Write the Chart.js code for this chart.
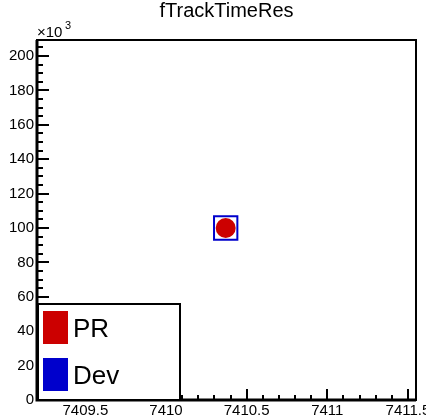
<!DOCTYPE html>
<html>
<head>
<meta charset="utf-8">
<script src="https://cdn.jsdelivr.net/npm/chart.js@4/dist/chart.umd.min.js"></script>
<style>
  html, body { margin: 0; padding: 0; background: #fff; }
  canvas { display: block; }
</style>
</head>
<body>
<canvas id="c" width="426" height="419"></canvas>
<script>
"use strict";

/* ── Datos ─────────────────────────────────────────── */
const SERIES_LABELS = ["PR", "Dev"];
const PR_X  = [7410.37];
const PR_Y  = [100000];
const DEV_X = [7410.37];
const DEV_Y = [100000];

const TITLE   = "fTrackTimeRes";
const X_RANGE = [7409.2, 7411.55];
const Y_RANGE = [0, 209300];
const X_TICKS = [7409.5, 7410, 7410.5, 7411, 7411.5];
const Y_TICKS = [0, 20000, 40000, 60000, 80000, 100000, 120000, 140000, 160000, 180000, 200000];

const RED  = "#cc0000";
const BLUE = "#0000cc";
const FONT = "'Liberation Sans', Arial, sans-serif";

function toPoints(xs, ys) {
  return xs.map((x, i) => ({ x, y: ys[i] }));
}

/* ── Plugin: marco, ticks internos, título, leyenda ──── */
const rootStyle = {
  id: "rootStyle",
  afterDraw(chart) {
    const { ctx, chartArea: a, scales } = chart;
    const xs = scales.x, ys = scales.y;
    ctx.save();

    // ticks hacia dentro (mayores en los ticks del eje)
    ctx.strokeStyle = "#000";
    ctx.lineWidth = 2;
    ctx.beginPath();
    for (let k = Math.ceil(X_RANGE[0] * 10); k <= Math.floor(X_RANGE[1] * 10); k++) {
      const px = Math.round(xs.getPixelForValue(k / 10));
      const major = k % 5 === 0;
      ctx.moveTo(px, a.bottom);
      ctx.lineTo(px, a.bottom - (major ? 11 : 5));
    }
    for (let v = 0; v <= Y_RANGE[1]; v += 5000) {
      const py = Math.round(ys.getPixelForValue(v));
      const major = Y_TICKS.includes(v);
      ctx.moveTo(a.left, py);
      ctx.lineTo(a.left + (major ? 12 : 6), py);
    }
    ctx.stroke();

    // marco
    ctx.lineWidth = 2;
    ctx.strokeRect(a.left, a.top, a.right - a.left, a.bottom - a.top);
    ctx.lineWidth = 3;
    ctx.beginPath();
    ctx.moveTo(a.left, a.top);
    ctx.lineTo(a.left, a.bottom);
    ctx.lineTo(a.right, a.bottom);
    ctx.stroke();

    // título
    ctx.fillStyle = "#000";
    ctx.font = "20px " + FONT;
    ctx.textAlign = "center";
    ctx.textBaseline = "alphabetic";
    ctx.fillText(TITLE, (a.left + a.right) / 2, 17);

    // ×10³
    ctx.textAlign = "left";
    ctx.font = "15px " + FONT;
    ctx.fillText("\u00d710", a.left, 37);
    ctx.font = "11px " + FONT;
    ctx.fillText("3", a.left + 28, 29);

    // leyenda
    const bx = a.left + 1, by = 304, bw = 142, bh = a.bottom - by;
    ctx.fillStyle = "#fff";
    ctx.fillRect(bx, by, bw, bh);
    ctx.lineWidth = 2;
    ctx.strokeStyle = "#000";
    ctx.strokeRect(bx, by, bw, bh);
    const colors = [RED, BLUE];
    chart.data.datasets.slice().reverse().forEach((ds, i) => {
      const y0 = 311 + i * 47;
      ctx.fillStyle = colors[i];
      ctx.fillRect(43, y0, 25, 33);
      ctx.fillStyle = "#000";
      ctx.font = "26px " + FONT;
      ctx.fillText(ds.label, 73, y0 + 26);
    });

    ctx.restore();
  }
};

new Chart(document.getElementById("c"), {
  type: "scatter",
  plugins: [rootStyle],
  data: {
    datasets: [
      {
        label: SERIES_LABELS[1],
        data: toPoints(DEV_X, DEV_Y),
        pointStyle: "rect",
        pointRadius: 16.5,
        backgroundColor: "rgba(0,0,0,0)",
        borderColor: BLUE,
        borderWidth: 2,
      },
      {
        label: SERIES_LABELS[0],
        data: toPoints(PR_X, PR_Y),
        pointStyle: "circle",
        pointRadius: 10,
        backgroundColor: RED,
        borderColor: RED,
        borderWidth: 0,
      },
    ]
  },
  options: {
    responsive: false,
    animation: false,
    events: [],
    layout: { autoPadding: false, padding: { top: 40, right: 10, left: 0, bottom: 0 } },
    scales: {
      x: {
        type: "linear",
        min: X_RANGE[0], max: X_RANGE[1],
        afterBuildTicks: s => { s.ticks = X_TICKS.map(v => ({ value: v })); },
        afterFit: s => { s.height = 19; s.paddingLeft = 0; s.paddingRight = 0; },
        border: { display: false },
        grid: { display: false, drawTicks: false },
        ticks: {
          autoSkip: false,
          maxRotation: 0,
          padding: 2,
          color: "#000",
          font: { family: FONT, size: 15 },
          callback: v => String(v),
        },
      },
      y: {
        type: "linear",
        min: Y_RANGE[0], max: Y_RANGE[1],
        afterBuildTicks: s => { s.ticks = Y_TICKS.map(v => ({ value: v })); },
        afterFit: s => { s.width = 37; s.paddingTop = 0; s.paddingBottom = 0; },
        border: { display: false },
        grid: { display: false, drawTicks: false },
        ticks: {
          autoSkip: false,
          padding: 3,
          color: "#000",
          font: { family: FONT, size: 15 },
          callback: v => String(Math.round(v / 1000)),
        },
      },
    },
    plugins: {
      legend: { display: false },
      title: { display: false },
      tooltip: { enabled: false },
    },
  },
});
</script>
</body>
</html>
